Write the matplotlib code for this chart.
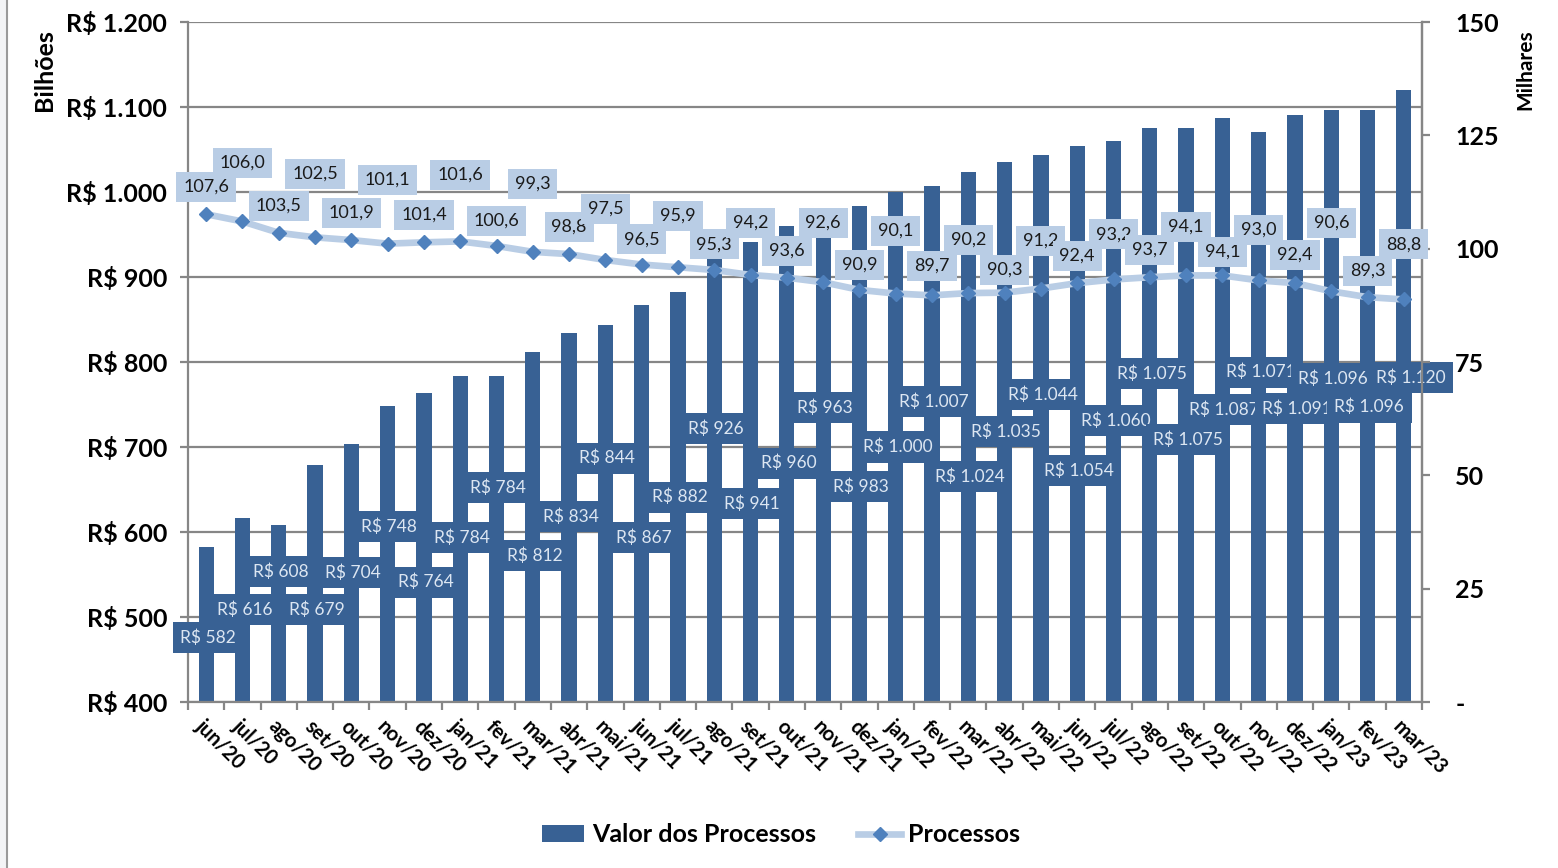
import numpy as np
import matplotlib
matplotlib.use("Agg")
import matplotlib.pyplot as plt
from matplotlib.lines import Line2D
from matplotlib.patches import Patch, Rectangle
from matplotlib.ticker import FuncFormatter, MultipleLocator

plt.rcParams['font.family'] = ['Lato', 'DejaVu Sans']

# meses (jun/20 .. mar/23)
meses = ['jun/20', 'jul/20', 'ago/20', 'set/20', 'out/20', 'nov/20', 'dez/20',
         'jan/21', 'fev/21', 'mar/21', 'abr/21', 'mai/21', 'jun/21', 'jul/21',
         'ago/21', 'set/21', 'out/21', 'nov/21', 'dez/21',
         'jan/22', 'fev/22', 'mar/22', 'abr/22', 'mai/22', 'jun/22', 'jul/22',
         'ago/22', 'set/22', 'out/22', 'nov/22', 'dez/22',
         'jan/23', 'fev/23', 'mar/23']

# valor dos processos (R$ bilhoes)
valor = [582, 616, 608, 679, 704, 748, 764, 784, 784, 812, 834, 844, 867, 882,
         926, 941, 960, 963, 983, 1000, 1007, 1024, 1035, 1044, 1054, 1060,
         1075, 1075, 1087, 1071, 1091, 1096, 1096, 1120]

# processos (milhares)
processos = [107.6, 106.0, 103.5, 102.5, 101.9, 101.1, 101.4, 101.6, 100.6,
             99.3, 98.8, 97.5, 96.5, 95.9, 95.3, 94.2, 93.6, 92.6, 90.9,
             90.1, 89.7, 90.2, 90.3, 91.2, 92.4, 93.2, 93.7, 94.1, 94.1,
             93.0, 92.4, 90.6, 89.3, 88.8]

# onde os rotulos foram arrastados no grafico original (unidades de cada eixo)
rot_valor_y = [476, 509, 553, 509, 552, 606, 541, 593, 652, 572, 618, 687,
               593, 641, 722, 633, 681, 746, 653, 700, 753, 665, 718, 762,
               672, 731, 786, 709, 744, 788, 745, 780, 747, 782]
rot_proc_y = [113.6, 118.9, 109.4, 116.5, 107.9, 115.2, 107.4, 116.3, 106.1,
              114.3, 104.8, 108.8, 102.1, 107.2, 101.0, 105.7, 99.5, 105.7,
              96.4, 103.9, 96.2, 101.9, 95.3, 101.7, 98.4, 103.2, 99.7,
              104.8, 99.3, 104.1, 98.6, 105.7, 95.1, 101.0]

azul_barra = '#386194'
azul_linha = '#b9cde5'
azul_marc = '#4f81bd'
cinza = '#868686'

def fmt_reais(v):
    return 'R$ ' + f'{v:,.0f}'.replace(',', '.')

def fmt_proc(v, pos=None):
    if v == 0:
        return '-'
    return f'{v:.0f}'

x = np.arange(len(meses))

fig = plt.figure(figsize=(15.58, 8.68), dpi=100)
ax = fig.add_axes([188 / 1558, 1 - 702 / 868, (1422 - 188) / 1558, (702 - 22) / 868])
ax2 = ax.twinx()

ax.set_axisbelow(True)
ax.yaxis.grid(True, color=cinza, lw=1.6)
ax.bar(x, valor, width=0.42, color=azul_barra, zorder=2)
for xi, v, yl in zip(x, valor, rot_valor_y):
    dx = 0.2 if xi == len(x) - 1 else 0.05
    ax.text(xi + dx, yl, fmt_reais(v), ha='center', va='center', fontsize=12.5,
            color='#dce6f2', zorder=3,
            bbox=dict(boxstyle='square,pad=0.42', fc=azul_barra, ec='none'))

ax.set_xlim(-0.5, len(meses) - 0.5)
ax.set_ylim(400, 1200)
ax.yaxis.set_major_locator(MultipleLocator(100))
ax.yaxis.set_major_formatter(FuncFormatter(lambda v, p: fmt_reais(v)))
ax.set_xticks(x)
ax.set_xticklabels(meses, rotation=-45, ha='left', va='top',
                   rotation_mode='anchor', fontsize=14.5, fontweight='bold')
ax.set_xticks(np.arange(len(meses) + 1) - 0.5, minor=True)
ax.tick_params(axis='x', which='major', length=0, pad=10)
ax.tick_params(axis='x', which='minor', length=6, width=1.6, color=cinza)
ax.tick_params(axis='y', length=6, width=1.6, color=cinza, labelsize=18, pad=9)
for lab in ax.get_yticklabels():
    lab.set_fontweight('bold')
ax.spines['top'].set_visible(False)
for s in ['left', 'bottom', 'right']:
    ax.spines[s].set_color(cinza)
    ax.spines[s].set_linewidth(1.6)

ax2.plot(x, processos, color=azul_linha, lw=4.8, marker='D', markersize=7.5,
         markerfacecolor=azul_marc, markeredgecolor=azul_marc, zorder=3)
for xi, v, yl in zip(x, processos, rot_proc_y):
    ax2.text(xi, yl, f'{v:.1f}'.replace('.', ','), ha='center', va='center',
             fontsize=13, color='#1a1a1a', zorder=4,
             bbox=dict(boxstyle='square,pad=0.38', fc=azul_linha, ec='none'))
ax2.set_ylim(0, 150)
ax2.yaxis.set_major_locator(MultipleLocator(25))
ax2.yaxis.set_major_formatter(FuncFormatter(fmt_proc))
ax2.tick_params(axis='y', length=6, width=1.6, color=cinza, labelsize=18, pad=18)
for lab in ax2.get_yticklabels():
    lab.set_fontweight('bold')
for s in ['top', 'left', 'bottom']:
    ax2.spines[s].set_visible(False)
ax2.spines['right'].set_color(cinza)
ax2.spines['right'].set_linewidth(1.6)

fig.text(45 / 1558, 1 - 70 / 868, 'Bilhões', rotation=90, ha='center', va='center',
         fontsize=18, fontweight='bold')
fig.text(1525 / 1558, 1 - 70 / 868, 'Milhares', rotation=90, ha='center', va='center',
         fontsize=15, fontweight='bold')

handles = [Patch(facecolor=azul_barra, edgecolor='none'),
           Line2D([], [], color=azul_linha, lw=4.8, marker='D', markersize=7.5,
                  markerfacecolor=azul_marc, markeredgecolor=azul_marc)]
fig.legend(handles, ['Valor dos Processos', 'Processos'], loc='center',
           bbox_to_anchor=(781 / 1558, 1 - 835 / 868), ncol=2, frameon=False,
           prop={'size': 18, 'weight': 'bold'}, handlelength=1.7, handleheight=0.65,
           handletextpad=0.3, columnspacing=1.7)

# moldura da captura
fig.patches.append(Rectangle((0, 0), 7 / 1558, 1, transform=fig.transFigure,
                             fc='#f3f4f6', ec='none', zorder=0))
fig.lines.append(Line2D([7 / 1558, 7 / 1558], [0, 1], transform=fig.transFigure,
                        color='#9a9a9a', lw=1.5))

fig.savefig('out.png', dpi=100)
